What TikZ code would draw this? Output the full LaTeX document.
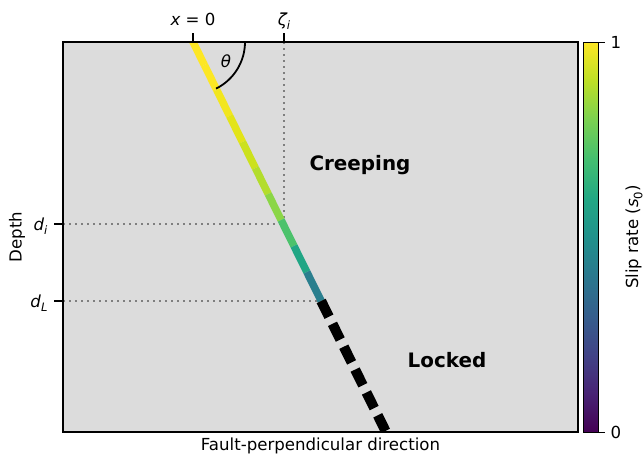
\documentclass[tikz,border=0pt]{standalone}
\usepackage{fontspec}
\setmainfont{DejaVu Sans}
\definecolor{axbg}{HTML}{DCDCDC}
\definecolor{guidegray}{HTML}{7F7F7F}
\definecolor{v0}{HTML}{440154}
\definecolor{v1}{HTML}{482475}
\definecolor{v2}{HTML}{414487}
\definecolor{v3}{HTML}{355F8D}
\definecolor{v4}{HTML}{2A788E}
\definecolor{v5}{HTML}{21918C}
\definecolor{v6}{HTML}{22A884}
\definecolor{v7}{HTML}{44BF70}
\definecolor{v8}{HTML}{7AD151}
\definecolor{v9}{HTML}{BDDF26}
\definecolor{v10}{HTML}{FDE725}
\definecolor{fa}{HTML}{FDE725}
\definecolor{fb}{HTML}{FCE724}
\definecolor{fc}{HTML}{F2E61E}
\definecolor{fd}{HTML}{E3E419}
\definecolor{fe}{HTML}{CCE11D}
\definecolor{ff}{HTML}{B3DD2C}
\definecolor{fg}{HTML}{8BD646}
\definecolor{fh}{HTML}{4CC26C}
\definecolor{fi}{HTML}{21A685}
\definecolor{fj}{HTML}{2A7F8E}
\newcommand\msub[1]{\raisebox{-0.25em}{\fontsize{11.6}{12}\selectfont #1}}
\begin{document}
\begin{tikzpicture}[x=1pt,y=-1pt,font=\fontsize{16.6}{20}\selectfont,
  tickmark/.style={line width=1.8pt},
  guide/.style={guidegray,line width=2.4pt,dash pattern=on 2.4pt off 3.6pt},
  faultseg/.style={line width=7.5pt,line cap=butt},
  lockedseg/.style={line width=10pt,line cap=butt,dash pattern=on 17.5pt off 8pt},
  bigtext/.style={font=\fontsize{19.9}{24}\selectfont\bfseries}]
\useasboundingbox (0,0) rectangle (644,455);
\fill[white] (0,0) rectangle (644,455);
\coordinate (tl) at (63,42);
\coordinate (br) at (578,432);
\fill[axbg] (tl) rectangle (br);
% guide lines
\coordinate (zt) at (284,42);
\coordinate (zi) at (284,224);
\coordinate (li) at (63,224);
\coordinate (ll) at (63,301);
\coordinate (lr) at (319,301);
\draw[guide] (zt) -- (zi);
\draw[guide] (li) -- (zi);
\draw[guide] (ll) -- (lr);
% fault
\begin{scope}
\clip (tl) rectangle (br);
\foreach \ya/\yb/\c in {38/65/fa,65/90/fb,90/116/fc,116/142/fd,142/168/fe,168/194/ff,194/220/fg,220/246/fh,246/272/fi,272/301/fj}
  \draw[faultseg,color=\c] ({193+0.4949*(\ya-42)},\ya) -- ({193+0.4949*(\yb-42)},\yb);
\coordinate (lockA) at ({193+0.4949*(301-42)},301);
\coordinate (lockB) at ({193+0.4949*(440-42)},440);
\draw[lockedseg] (lockA) -- (lockB);
\end{scope}
% theta arc
\coordinate (arcS) at (245,42);
\draw[line width=1.8pt] (arcS) arc[start angle=0,end angle=63.67,radius=52];
\node (theta) at (226,61) {\itshape θ};
% frame
\draw[line width=1.2pt] (tl) rectangle (br);
% top ticks
\coordinate (t0a) at (193,33); \coordinate (t0b) at (193,42);
\coordinate (tza) at (284,33); \coordinate (tzb) at (284,42);
\draw[tickmark] (t0a) -- (t0b);
\draw[tickmark] (tza) -- (tzb);
\node[anchor=base] (xlab) at (193,25) {{\itshape x} = 0};
\node[anchor=base] (zlab) at (284,25) {{\itshape ζ}\msub{\itshape i}};
% left ticks
\coordinate (dia) at (54,224); \coordinate (dib) at (63,224);
\coordinate (dla) at (54,301); \coordinate (dlb) at (63,301);
\draw[tickmark] (dia) -- (dib);
\draw[tickmark] (dla) -- (dlb);
\node[anchor=east] (dilab) at (51,226) {{\itshape d}\msub{\itshape i}};
\node[anchor=east] (dllab) at (51,303) {{\itshape d}\msub{\itshape L}};
% labels
\node[bigtext] (creep) at (360,165) {Creeping};
\node[bigtext] (lock) at (447,360) {Locked};
\node (xaxis) at (320.5,446) {Fault-perpendicular direction};
\node[rotate=90] (yaxis) at (17,237) {Depth};
% colorbar
\foreach \k [evaluate=\k as \kk using int(\k+1)] in {0,...,9}
  \shade[top color=v\kk,bottom color=v\k] (583,{432-39*(\k+1)}) rectangle (598,{432-39*\k});
\draw[line width=1pt] (583,42) rectangle (598,432);
\coordinate (cta) at (598,42); \coordinate (ctb) at (605,42);
\coordinate (cba) at (598,432); \coordinate (cbb) at (605,432);
\draw[line width=1pt] (cta) -- (ctb);
\draw[line width=1pt] (cba) -- (cbb);
\node[anchor=west] (c1) at (607,42) {1};
\node[anchor=west] (c0) at (607,432) {0};
\node[rotate=90] (clab) at (634,237) {Slip rate ({\itshape s}\msub{0})};
\end{tikzpicture}
\end{document}
